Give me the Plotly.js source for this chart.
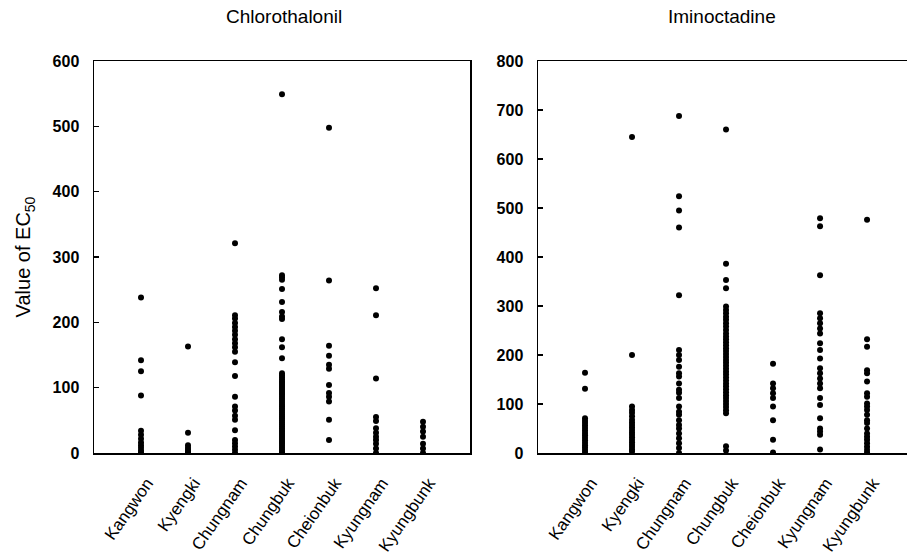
<!DOCTYPE html>
<html>
<head>
<meta charset="utf-8">
<script src="https://cdn.plot.ly/plotly-3.0.1.min.js"></script>
<style>
  html, body { margin: 0; padding: 0; background: #fff; }
  #chart { width: 907px; height: 558px; }
</style>
</head>
<body>
<div id="chart"></div>
<script>
// Sampling regions
const regions = ['Kangwon', 'Kyengki', 'Chungnam', 'Chungbuk', 'Cheionbuk', 'Kyungnam', 'Kyungbunk'];

// EC50 values per region, Chlorothalonil
const chloroKangwon = [238, 142, 125, 88, 34, 28, 22, 16, 12, 8, 4, 1];
const chloroKyengki = [163, 31, 12, 8, 5, 2, 0];
const chloroChungnam = [321, 211, 206, 199, 193, 187, 181, 174, 168, 162, 155, 139, 118, 86, 71, 65, 57, 51, 35, 20, 15, 10, 5, 0];
const chloroChungbuk = [549, 272, 269, 265, 251, 231, 216, 209, 205, 174, 162, 145, 122, 119, 116, 113, 110, 107, 104, 101, 98, 95, 92, 89, 86, 83, 80, 77, 74, 71, 68, 65, 62, 59, 56, 53, 50, 47, 44, 41, 38, 35, 32, 29, 26, 23, 20, 17, 14, 11, 8, 5, 2, 0];
const chloroCheionbuk = [498, 264, 164, 149, 135, 129, 104, 92, 86, 79, 51, 20];
const chloroKyungnam = [252, 211, 114, 55, 49, 38, 31, 25, 20, 14, 7, 0];
const chloroKyungbunk = [48, 40, 33, 25, 14, 7, 0];

// EC50 values per region, Iminoctadine
const iminoKangwon = [164, 131, 71, 66, 61, 56, 51, 46, 41, 36, 31, 26, 21, 16, 11, 6, 2];
const iminoKyengki = [645, 200, 95, 88, 82, 75, 68, 62, 57, 52, 47, 42, 37, 32, 27, 22, 17, 12, 7, 3];
const iminoChungnam = [688, 524, 495, 460, 322, 210, 200, 190, 176, 163, 156, 142, 129, 123, 112, 95, 84, 78, 67, 57, 50, 40, 30, 20, 10, 0];
const iminoChungbuk = [660, 386, 353, 336, 299, 292, 285, 278, 272, 265, 258, 251, 244, 238, 232, 226, 220, 214, 208, 202, 196, 190, 184, 178, 172, 166, 160, 154, 148, 142, 136, 130, 124, 118, 112, 106, 100, 94, 87, 81, 14, 5];
const iminoCheionbuk = [182, 142, 132, 122, 112, 95, 67, 27, 1];
const iminoKyungnam = [479, 463, 363, 285, 275, 265, 254, 244, 224, 210, 193, 173, 163, 152, 142, 132, 112, 98, 71, 50, 44, 37, 7];
const iminoKyungbunk = [476, 232, 217, 169, 163, 146, 122, 115, 101, 95, 88, 78, 67, 61, 50, 40, 33, 27, 20, 13, 6, 1];

const chloroValues = [chloroKangwon, chloroKyengki, chloroChungnam, chloroChungbuk, chloroCheionbuk, chloroKyungnam, chloroKyungbunk];
const iminoValues = [iminoKangwon, iminoKyengki, iminoChungnam, iminoChungbuk, iminoCheionbuk, iminoKyungnam, iminoKyungbunk];

const chloroTicks = [0, 100, 200, 300, 400, 500, 600];
const iminoTicks = [0, 100, 200, 300, 400, 500, 600, 700, 800];

function stripTrace(groups, xa, ya) {
  const x = [], y = [];
  groups.forEach((vals, i) => vals.forEach(v => { x.push(regions[i]); y.push(v); }));
  return {
    type: 'scatter', mode: 'markers', x: x, y: y, xaxis: xa, yaxis: ya,
    marker: { color: '#000', size: 6, symbol: 'circle' },
    hoverinfo: 'x+y', showlegend: false
  };
}

const data = [
  stripTrace(chloroValues, 'x', 'y'),
  stripTrace(iminoValues, 'x2', 'y2')
];

const font = 'Liberation Sans, Arial, sans-serif';
const xCommon = {
  type: 'category', categoryorder: 'array', categoryarray: regions,
  showline: true, linecolor: '#000', linewidth: 1.5,
  ticks: '', showgrid: false, zeroline: false,
  tickangle: -55,
  ticklabelstandoff: 12,
  ticklabelshift: 6,
  tickfont: { family: font, size: 17, color: '#000' }
};
const yCommon = {
  showline: true, linecolor: '#000', linewidth: 1.5,
  ticks: 'inside', ticklen: 5, tickcolor: '#000', tickwidth: 1.5,
  showgrid: false, zeroline: false,
  ticklabelstandoff: 10,
  tickfont: { family: font, size: 16, color: '#000', weight: 'bold' }
};

const layout = {
  width: 907, height: 558,
  margin: { l: 0, r: 0, t: 61, b: 105 },
  paper_bgcolor: '#fff', plot_bgcolor: '#fff',
  xaxis: Object.assign({}, xCommon, { domain: [94 / 907, 470 / 907], range: [-1, 7], mirror: true, anchor: 'y' }),
  yaxis: Object.assign({}, yCommon, {
    domain: [0, 1], range: [0, 600], tickvals: chloroTicks, mirror: true, anchor: 'x',
    title: { text: 'Value of EC<sub>50</sub>', font: { family: font, size: 20, color: '#000' }, standoff: 16 }
  }),
  xaxis2: Object.assign({}, xCommon, { domain: [538 / 907, 1], range: [-1, 6.85], mirror: true, anchor: 'y2' }),
  yaxis2: Object.assign({}, yCommon, { domain: [0, 1], range: [0, 800], tickvals: iminoTicks, anchor: 'x2' }),
  annotations: [
    { text: 'Chlorothalonil', xref: 'paper', yref: 'paper', x: 284 / 907, y: 1,
      xanchor: 'center', yanchor: 'middle', yshift: 45,
      showarrow: false, font: { family: font, size: 19, color: '#000' } },
    { text: 'Iminoctadine', xref: 'paper', yref: 'paper', x: 722 / 907, y: 1,
      xanchor: 'center', yanchor: 'middle', yshift: 45,
      showarrow: false, font: { family: font, size: 19, color: '#000' } }
  ]
};

Plotly.newPlot('chart', data, layout, { displayModeBar: false, staticPlot: true });
</script>
</body>
</html>
